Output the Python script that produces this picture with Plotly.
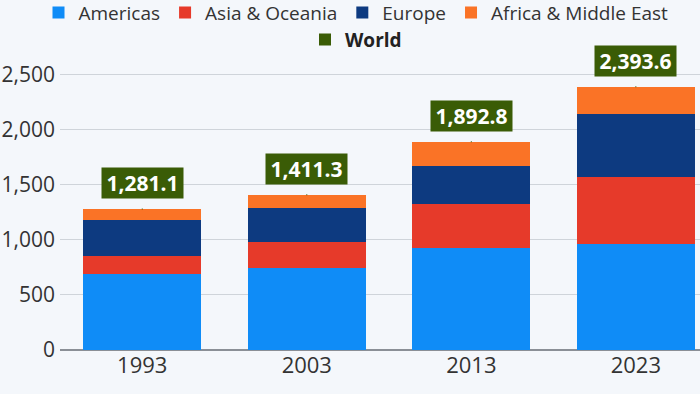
import plotly.graph_objects as go

years = ["1993", "2003", "2013", "2023"]
americas = [690.0, 748.0, 930.0, 964.0]
asia_oceania = [166.0, 231.0, 397.0, 612.0]
europe = [326.0, 315.0, 346.0, 569.0]
africa_me = [99.1, 117.3, 219.8, 248.6]
world = [1281.1, 1411.3, 1892.8, 2393.6]

y_ticks = [0, 500, 1000, 1500, 2000, 2500]

series = [
    ("Americas", americas, "#0f8cf7"),
    ("Asia & Oceania", asia_oceania, "#e63a2a"),
    ("Europe", europe, "#0d3a80"),
    ("Africa & Middle East", africa_me, "#fa7326"),
]
green = "#3a5c06"
font_family = "Open Sans"

fig = go.Figure()
for name, vals, col in series:
    fig.add_trace(go.Bar(x=years, y=vals, name=name, marker=dict(color=col, line=dict(width=0)),
                         legend="legend"))

fig.add_trace(go.Scatter(x=years, y=world, name="<b>World</b>", mode="markers",
                         marker=dict(symbol="square", size=1, color=green, line=dict(width=0)),
                         legend="legend2", hoverinfo="skip"))

for i, v in enumerate(world):
    fig.add_annotation(x=i, y=v, xref="x", yref="y",
                       text=f"&#8201;<b>{v:,.1f}</b>&#8201;", showarrow=False,
                       yanchor="bottom", yshift=10, bgcolor=green, borderpad=1,
                       font=dict(family=font_family, size=21, color="white"))

fig.update_layout(
    template="plotly_white",
    width=700, height=394,
    barmode="stack", bargap=0.283,
    paper_bgcolor="#f4f7fb", plot_bgcolor="#f4f7fb",
    margin=dict(l=60, r=0, t=50, b=44, autoexpand=False),
    font=dict(family=font_family, color="#333333"),
    legend=dict(orientation="h", x=0.4625, xanchor="center", y=1.188, yanchor="top",
                font=dict(size=19, color="#333333"), bgcolor="rgba(0,0,0,0)",
                traceorder="normal"),
    legend2=dict(orientation="h", x=0.4625, xanchor="center", y=1.098, yanchor="top",
                 font=dict(size=19, color="#222222"), bgcolor="rgba(0,0,0,0)",
                 itemsizing="constant"),
    xaxis=dict(type="category", range=[-0.5, 3.39], tickfont=dict(size=22),
               showgrid=False, ticks="", showline=False, automargin=False),
    yaxis=dict(range=[0, 2727], tickvals=y_ticks, ticktext=[f"{t:,}" for t in y_ticks],
               tickfont=dict(size=21), gridcolor="#cfd4da", gridwidth=1,
               zeroline=True, zerolinecolor="#8a8f96", zerolinewidth=2, ticks="",
               automargin=False, ticklabelstandoff=4),
    showlegend=True,
)

fig.write_html("out.html", config={"displayModeBar": False},
               post_script="document.body.style.margin='0';document.body.style.overflow='hidden';")
